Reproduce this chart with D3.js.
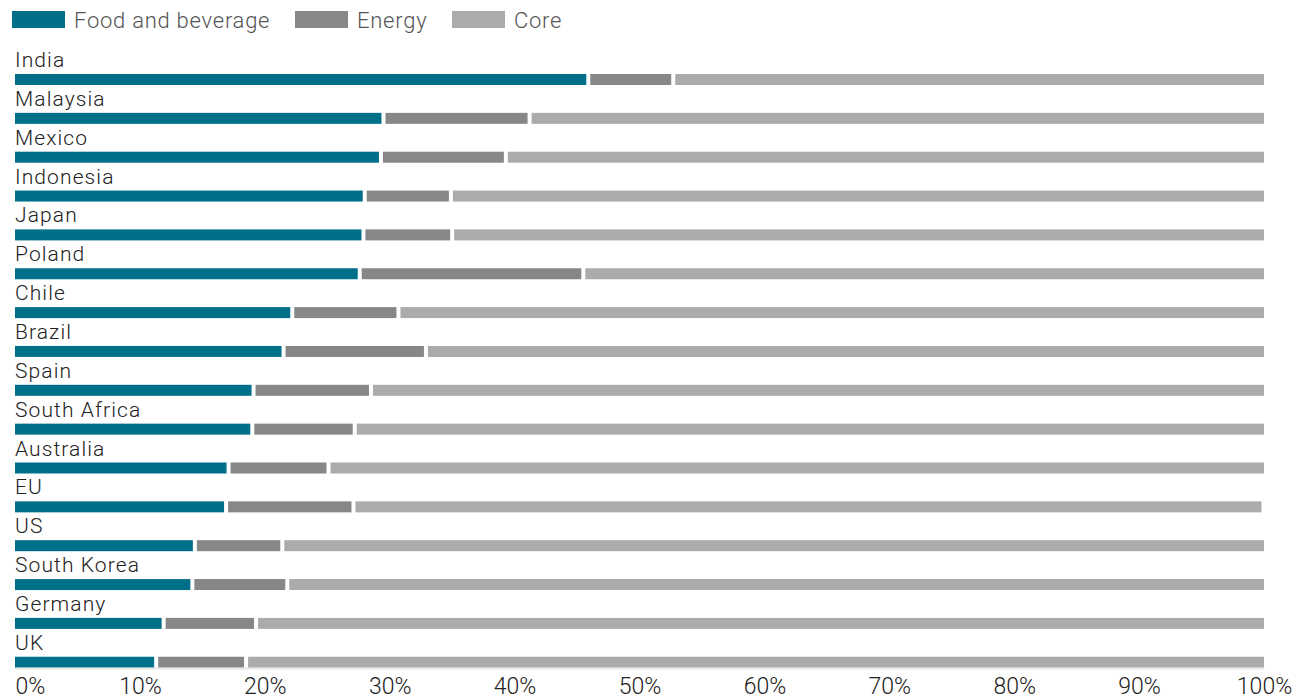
<!DOCTYPE html>
<html>
<head>
<meta charset="utf-8">
<script src="https://cdn.jsdelivr.net/npm/d3@7/dist/d3.min.js"></script>
<style>
  body { margin: 0; background: #fff; }
  svg text { font-family: Roboto, "Noto Sans", sans-serif; font-weight: 300; fill: #222; }
</style>
</head>
<body>
<div id="chart"></div>
<script>
// share of inflation basket, %
var countries = ["India", "Malaysia", "Mexico", "Indonesia", "Japan", "Poland", "Chile", "Brazil",
                 "Spain", "South Africa", "Australia", "EU", "US", "South Korea", "Germany", "UK"];
var food   = [45.9, 29.5, 29.3, 28.0, 27.9, 27.6, 22.2, 21.5, 19.1, 19.0, 17.1, 16.9, 14.4, 14.2, 11.9, 11.3];
var energy = [ 6.8, 11.7, 10.0,  6.9,  7.1, 17.9,  8.5, 11.4,  9.4,  8.2,  8.0, 10.2,  7.0,  7.6,  7.4,  7.2];
var total  = [100, 100, 100, 100, 100, 100, 100, 100, 100, 100, 100, 99.8, 100, 100, 100, 100];
var series = ["Food and beverage", "Energy", "Core"];
var colors = ["#006f8a", "#878787", "#ababab"];
var ticks  = [0, 10, 20, 30, 40, 50, 60, 70, 80, 90, 100];

var width = 1297, height = 700;
var gap = 4, barH = 11;

var svg = d3.select("#chart").append("svg")
    .attr("width", width)
    .attr("height", height);

//Scales
var x = d3.scaleLinear().domain([0, 100]).range([15, 1264]);
var y = d3.scaleBand().domain(countries).range([48, 48 + 16 * 38.85]);

//Build stacked data
var rows = countries.map(function(c, i) {
    return {country: c, "Food and beverage": food[i], "Energy": energy[i], "Core": total[i] - food[i] - energy[i]};
});
var stacked = d3.stack().keys(series)(rows);

//Legend
var legend = svg.append("g");
var lx = [12, 295, 452];
series.forEach(function(s, i) {
    legend.append("rect")
        .attr("x", lx[i]).attr("y", 11)
        .attr("width", 53).attr("height", 17)
        .attr("fill", colors[i]);
    legend.append("text")
        .attr("x", lx[i] + 62).attr("y", 28)
        .attr("font-size", 22)
        .attr("letter-spacing", 0.75)
        .style("fill", "#555")
        .text(s);
});

//Country labels
svg.append("g").selectAll("text")
    .data(countries)
    .enter().append("text")
    .attr("x", 15)
    .attr("y", function(d) { return y(d) + 19; })
    .attr("font-size", 21)
    .attr("letter-spacing", 1.1)
    .text(function(d) { return d; });

//Bars
var layers = svg.append("g").selectAll("g")
    .data(stacked)
    .enter().append("g")
    .attr("fill", function(d, i) { return colors[i]; });

layers.selectAll("rect")
    .data(function(d, k) { d.forEach(function(p) { p.layer = k; }); return d; })
    .enter().append("rect")
    .attr("x", function(d) { return x(d[0]) + (d.layer > 0 ? gap / 2 : 0); })
    .attr("y", function(d) { return y(d.data.country) + 26; })
    .attr("height", barH)
    .attr("width", function(d) {
        var w = x(d[1]) - x(d[0]);
        if (d.layer > 0) w -= gap / 2;
        if (d.layer < series.length - 1) w -= gap / 2;
        return Math.max(0, w);
    });

//Axis
var axis = d3.axisBottom(x)
    .tickValues(ticks)
    .tickSize(0)
    .tickPadding(10)
    .tickFormat(function(d) { return d + "%"; });

var ag = svg.append("g")
    .attr("transform", "translate(0,668)")
    .call(axis);
ag.select(".domain").attr("stroke", "#e6e6e6").attr("stroke-width", 2);
ag.selectAll("text")
    .attr("font-size", 23)
    .attr("font-family", null)
    .attr("dy", "0.71em")
    .style("fill", "#222");
ag.selectAll(".tick").filter(function(d) { return d === 0; })
    .select("text").attr("text-anchor", "start");
</script>
</body>
</html>
